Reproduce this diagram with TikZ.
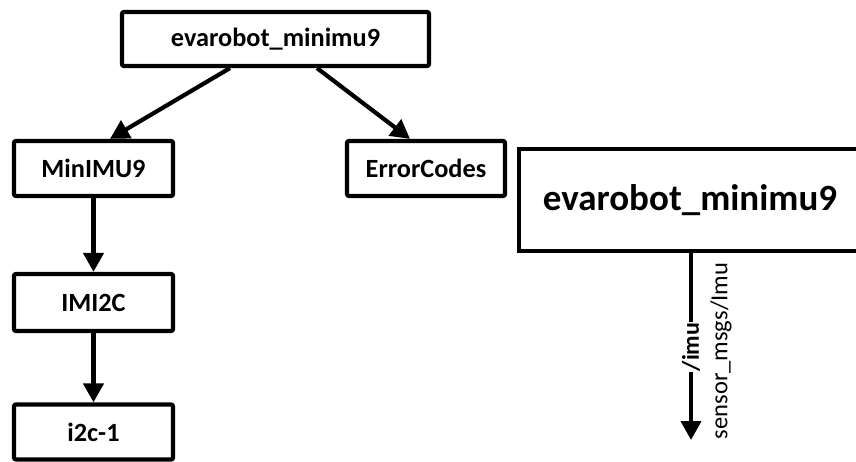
\documentclass[tikz,border=0pt]{standalone}
\usepackage{fontspec}
\setmainfont{Carlito}
\usetikzlibrary{arrows.meta,calc}
\begin{document}
\begin{tikzpicture}[x=1pt,y=-1pt,
  box/.style={draw,line width=4.2pt,rounded corners=2pt,inner sep=0pt,font=\bfseries\fontsize{26.3}{30}\selectfont},
  arr/.style={line width=4.2pt,-{Triangle[length=19pt,width=20pt]}},
]
\useasboundingbox (0,0) rectangle (856,462);
\node[box,minimum width=307pt,minimum height=54pt] (top) at (275.5,39) {evarobot\_minimu9};
\node[box,minimum width=159pt,minimum height=55pt] (m) at (93.5,168.5) {MinIMU9};
\node[box,minimum width=158pt,minimum height=55pt] (e) at (426,168.5) {ErrorCodes};
\node[box,minimum width=159pt,minimum height=57pt] (i) at (93.5,302.5) {IMI2C};
\node[box,minimum width=159pt,minimum height=55pt] (c) at (93.5,432) {i2c-1};
\node[draw,line width=4.2pt,minimum width=342pt,minimum height=102pt,inner sep=0pt,font=\bfseries\fontsize{37}{42}\selectfont] (big) at (690,200) {evarobot\_minimu9};
\coordinate (imuend) at (691,440);
\draw[arr] ([xshift=-45.5pt]top.south) -- ([xshift=16.5pt]m.north);
\draw[arr] ([xshift=41.5pt]top.south) -- ([xshift=-16pt]e.north);
\draw[arr] (m) -- (i);
\draw[arr] (i) -- (c);
\draw[arr] (big.south -| imuend) -- (imuend);
\node[rotate=90,fill=white,inner sep=1pt,font=\bfseries\fontsize{24}{28}\selectfont] (imu) at (691,347) {/imu};
\node[rotate=90,inner sep=0pt,font=\fontsize{24.5}{28}\selectfont] (typ) at (721,351) {sensor\_msgs/Imu};
\end{tikzpicture}
\end{document}
